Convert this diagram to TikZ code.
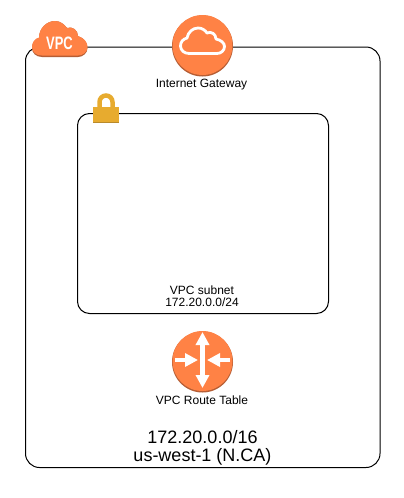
\documentclass[tikz,border=0pt]{standalone}
\usepackage{fontspec}
\setmainfont{Liberation Sans}
\usetikzlibrary{arrows.meta}
\definecolor{awsorange}{HTML}{FF8245}
\definecolor{awsdark}{HTML}{B65E35}
\definecolor{lockgold}{HTML}{E7AB2F}
\definecolor{lockdark}{HTML}{B98A2B}
\tikzset{
  groupbox/.style={draw=black, line width=1pt, fill=white},
  iconback/.style={circle, fill=awsdark, minimum size=61pt, inner sep=0pt},
  iconfront/.style={circle, fill=awsorange, minimum size=60pt, inner sep=0pt},
  caption/.style={inner sep=0pt, align=center, font=\fontsize{12}{12}\selectfont},
  bigcaption/.style={inner sep=0pt, align=center, font=\fontsize{18}{18}\selectfont},
  whitearrow/.style={draw=white, line width=4.5pt, -{Triangle[length=13pt,width=13pt]}}
}
\begin{document}
\begin{tikzpicture}[x=1pt,y=-1pt]
\useasboundingbox (0,0) rectangle (404,498); % Same size as the reference
% The two groups
\draw[groupbox, rounded corners=14pt] (25.5,47) rectangle (380,467.5); % VPC
\draw[groupbox, rounded corners=12pt] (77.5,113.5) rectangle (328.5,313.5); % Subnet
% VPC cloud
\fill[awsdark] (42,57) .. controls (36,57) and (32,53) .. (32,48) .. controls (32,43) and (35,39) .. (39,38)
  .. controls (39,28) and (47,21) .. (55,21) .. controls (60,21) and (64,24) .. (67,28)
  .. controls (72,26) and (78,30) .. (78,36) .. controls (84,38) and (87.5,43) .. (87.5,48) .. controls (87.5,53) and (83,57) .. (78,57) -- cycle;
\fill[awsorange] (42,55.5) .. controls (36,55.5) and (32,52) .. (32,47) .. controls (32,42) and (35,38.5) .. (39,37.5)
  .. controls (39,28) and (47,21) .. (55,21) .. controls (60,21) and (64,24) .. (67,28)
  .. controls (72,26) and (78,30) .. (78,36) .. controls (84,38) and (87.5,42) .. (87.5,47) .. controls (87.5,52) and (83,55.5) .. (78,55.5) -- cycle;
\node[text=white, inner sep=0pt, xscale=.72, font=\fontsize{18}{18}\selectfont\bfseries] (vpclabel) at (59.5,43.5) {VPC};
% Internet gateway
\node[iconback] (igwback) at (202.5,46) {};
\node[iconfront] (igw) at (202.5,45) {};
\draw[white, line width=2.8pt, line join=round] (189,53.5) .. controls (184,53.5) and (180.5,50) .. (180.5,46) .. controls (180.5,42) and (183,39) .. (187,38)
  .. controls (188,32) and (193,28) .. (198,28) .. controls (202,28) and (205,30) .. (207,33)
  .. controls (211,31) and (216,34) .. (216,39) .. controls (221,40) and (224.5,43) .. (224.5,46.5) .. controls (224.5,50.5) and (221,53.5) .. (217,53.5) -- cycle;
\node[caption] (igwlabel) at (201.5,85) {Internet Gateway};
% Lock of the subnet
\draw[lockgold, line width=4.5pt] (99.5,108) -- (99.5,102) arc[start angle=180, end angle=0, radius=6.5pt] -- (112.5,108);
\fill[lockdark] (93,107) rectangle (119,123);
\fill[lockgold] (93,107) rectangle (119,121.5);
% Subnet text
\node[caption] (subnetlabel) at (202,296.5) {VPC subnet\\172.20.0.0/24};
% Route table
\node[iconback] (rtback) at (202.5,362) {};
\node[iconfront] (rt) at (202.5,361) {};
\coordinate (rttop) at (202.5,332);
\coordinate (rtbottom) at (202.5,388);
\coordinate (rtleft) at (175,360);
\coordinate (rtright) at (230,360);
\coordinate (rtleftin) at (198,360);
\coordinate (rtrightin) at (207,360);
\draw[whitearrow, {Triangle[length=13pt,width=13pt]}-{Triangle[length=13pt,width=13pt]}] (rttop) -- (rtbottom);
\draw[whitearrow] (rtleft) -- (rtleftin);
\draw[whitearrow] (rtright) -- (rtrightin);
\node[caption] (rtlabel) at (202,400.5) {VPC Route Table};
% Text of the VPC
\node[bigcaption] (vpctext) at (202.5,447.5) {172.20.0.0/16\\us-west-1 (N.CA)};
\end{tikzpicture}
\end{document}
